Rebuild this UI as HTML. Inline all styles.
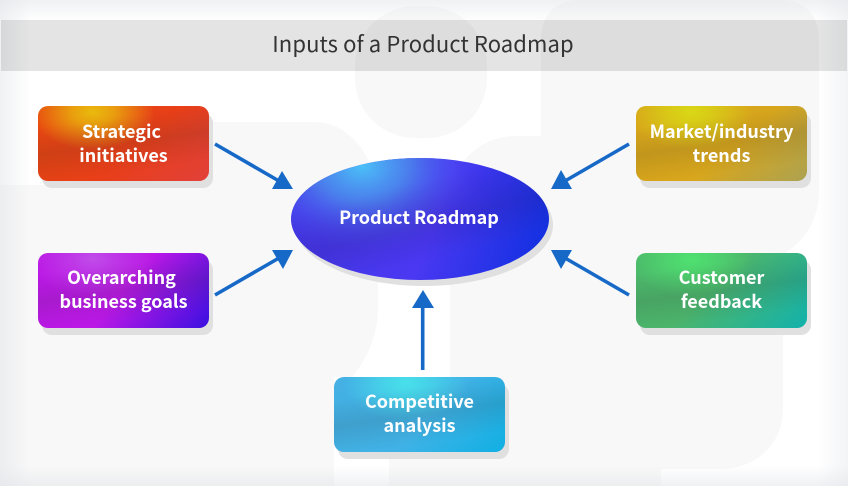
<!DOCTYPE html>
<html>
<head>
<meta charset="utf-8">
<style>
html,body{margin:0;padding:0;background:#fff}
#p{position:relative;width:848px;height:486px;overflow:hidden;background:#fff;font-family:"Noto Sans CJK JP","Liberation Sans",sans-serif}
svg{position:absolute;left:0;top:0}
.v{position:absolute}
.title{position:absolute;left:1px;top:20px;width:846px;height:51px;background:rgba(0,0,0,.105)}
.tt{position:absolute;left:0;top:19px;width:846px;height:48px;line-height:48px;text-align:center;font-size:22px;letter-spacing:.1px;color:#333}
.s{position:absolute;width:171px;height:75px;border-radius:10px;background:#e0e0e0}
.b{position:absolute;width:171px;height:75px;border-radius:10px;color:#fff;font-weight:700;font-size:18px;line-height:24px;text-align:center}
.b div{position:absolute;left:0;top:13px;width:171px}
.b div.u{top:12px}
.l{position:relative;left:-2px}
.band{position:absolute;inset:0;border-radius:10px;background:linear-gradient(172deg,rgba(0,0,0,0) 22%,rgba(40,40,40,.13) 50%,rgba(0,0,0,0) 80%)}
</style>
</head>
<body>
<div id="p">
<svg width="848" height="486" viewBox="0 0 848 486">
  <g fill="#f8f8f8">
    <rect x="355" y="6" width="132" height="132" rx="60"/>
    <path d="M0 185H108V122H315C350 122 378 160 378 200V305C378 335 368 358 352 377H334V486H0Z"/>
    <path d="M389 486V377H450V200C450 165 480 136 515 136H541V40C541 15 555 0 580 0H780C805 0 819 15 819 40V190C819 220 805 240 783 255V409C783 445 755 469 720 469H661V486Z"/>
  </g>
</svg>
<div class="v" style="left:0;top:0;width:848px;height:22px;background:linear-gradient(180deg,rgba(225,227,232,.5),rgba(255,255,255,0))"></div>
<div class="v" style="left:0;top:466px;width:848px;height:20px;background:linear-gradient(0deg,rgba(225,227,232,.5),rgba(255,255,255,0))"></div>
<div class="v" style="left:0;top:0;width:30px;height:486px;background:linear-gradient(90deg,rgba(225,227,232,.5),rgba(255,255,255,0))"></div>
<div class="v" style="left:818px;top:0;width:30px;height:486px;background:linear-gradient(270deg,rgba(225,227,232,.4),rgba(255,255,255,0))"></div>
<div class="title"></div>
<div class="tt">Inputs of a Product Roadmap</div>

<div class="s" style="left:42px;top:113px"></div>
<div class="s" style="left:640px;top:113px"></div>
<div class="s" style="left:42px;top:260px"></div>
<div class="s" style="left:640px;top:260px"></div>
<div class="s" style="left:338px;top:384px"></div>

<div class="b" style="left:38px;top:106px;background:radial-gradient(ellipse 62px 38px at 32% 8%,#e9bb0d 0%,rgba(233,187,13,.75) 35%,rgba(233,100,20,0) 100%),linear-gradient(140deg,#e8470f 0%,#e83f18 55%,#e2403a 100%)"><span class="band"></span><div><span class="l">Strategic</span><br>initiatives</div></div>

<div class="b" style="left:636px;top:106px;background:radial-gradient(ellipse 62px 38px at 32% 8%,#d9d815 0%,rgba(217,216,21,.7) 35%,rgba(217,170,30,0) 100%),linear-gradient(140deg,#d8a61a 0%,#d8a61c 55%,#aca251 100%)"><span class="band"></span><div>Market/industry<br>trends</div></div>

<div class="b" style="left:38px;top:253px;background:radial-gradient(ellipse 62px 38px at 32% 8%,#c04ce8 0%,rgba(192,76,232,.6) 35%,rgba(192,30,230,0) 100%),linear-gradient(130deg,#bb18e6 0%,#bb18e6 50%,#3a10e0 100%)"><span class="band"></span><div class="u"><span class="l">Overarching</span><br>business goals</div></div>

<div class="b" style="left:636px;top:253px;background:radial-gradient(ellipse 62px 38px at 32% 8%,#4fe070 0%,rgba(79,224,112,.7) 35%,rgba(79,190,110,0) 100%),linear-gradient(135deg,#4cb86a 0%,#4cb56c 45%,#12b2ac 100%)"><span class="band"></span><div class="u">Customer<br>feedback</div></div>

<div class="b" style="left:334px;top:377px;background:radial-gradient(ellipse 62px 38px at 42% 8%,#48e0ea 0%,rgba(72,224,234,.7) 35%,rgba(72,190,230,0) 100%),linear-gradient(135deg,#44b0e4 0%,#40b2e6 55%,#10b0e4 100%)"><span class="band"></span><div class="u">Competitive<br>analysis</div></div>

<svg width="848" height="486" viewBox="0 0 848 486">
  <defs>
    <radialGradient id="h" gradientUnits="userSpaceOnUse" cx="362" cy="166" r="120" gradientTransform="translate(362 166) scale(1 .75) translate(-362 -166)">
      <stop offset="0" stop-color="#4bc0f8"/>
      <stop offset=".4" stop-color="#4b84ec" stop-opacity=".9"/>
      <stop offset="1" stop-color="#4a3cf0" stop-opacity="0"/>
    </radialGradient>
    <linearGradient id="e" gradientUnits="userSpaceOnUse" x1="300" y1="170" x2="545" y2="260">
      <stop offset="0" stop-color="#4438e8"/>
      <stop offset=".55" stop-color="#4a38f2"/>
      <stop offset="1" stop-color="#1030e0"/>
    </linearGradient>
    <linearGradient id="d" gradientUnits="userSpaceOnUse" x1="400" y1="160" x2="430" y2="280">
      <stop offset=".2" stop-color="#201060" stop-opacity="0"/>
      <stop offset=".55" stop-color="#201060" stop-opacity=".16"/>
      <stop offset=".85" stop-color="#201060" stop-opacity="0"/>
    </linearGradient>
  </defs>
  <ellipse cx="424" cy="225" rx="129" ry="61" fill="#e0e0e0"/>
  <ellipse cx="420" cy="219" rx="129" ry="61" fill="url(#e)"/>
  <ellipse cx="420" cy="219" rx="129" ry="61" fill="url(#h)"/>
  <ellipse cx="420" cy="219" rx="129" ry="61" fill="url(#d)"/>
  <text x="419" y="224" text-anchor="middle" fill="#fff" font-size="18" font-weight="700" font-family="'Noto Sans CJK JP','Liberation Sans',sans-serif">Product Roadmap</text>
  <g stroke="#1769c8" stroke-width="3.6" fill="none">
    <path d="M215 144L279 181"/>
    <path d="M215 295L279 258"/>
    <path d="M629 144L565 181"/>
    <path d="M629 295L565 258"/>
    <path d="M422.7 370V305"/>
  </g>
  <g fill="#1769c8">
    <path d="M282 171L272 189H293Z"/>
    <path d="M272 250H293L283 269Z"/>
    <path d="M561 170L551 189H572Z"/>
    <path d="M551 250H572L561 269Z"/>
    <path d="M423 290L412 308H434Z"/>
  </g>
</svg>
</div>
</body>
</html>
